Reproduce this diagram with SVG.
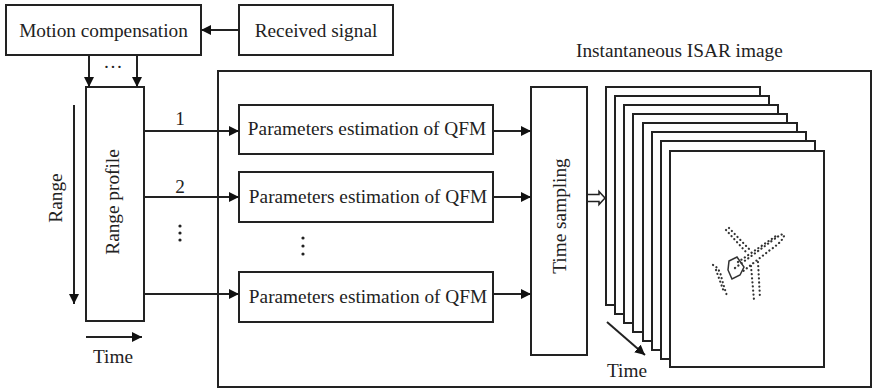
<svg xmlns="http://www.w3.org/2000/svg" width="875" height="389" viewBox="0 0 875 389">
  <style>
    .box { fill: #fff; stroke: #222; stroke-width: 2; }
    .ln { fill: none; stroke: #222; stroke-width: 2; }
    .t { font-family: "Liberation Serif", "Times New Roman", serif; font-size: 19.3px; fill: #222; }
    .dot { fill: none; stroke: #333; stroke-width: 2.2; stroke-linecap: round; stroke-dasharray: 0.1 4; }
  </style>
  <defs>
    <marker id="ah" viewBox="0 0 10 10" refX="10" refY="5" markerWidth="10" markerHeight="10" markerUnits="userSpaceOnUse" orient="auto">
      <path d="M0,0 L10,5 L0,10 z" fill="#111"/>
    </marker>
  </defs>

  <rect width="875" height="389" fill="#fff"/>

  <!-- outer frame -->
  <rect x="218" y="71" width="653" height="316" fill="none" stroke="#222" stroke-width="2"/>
  <text class="t" x="576" y="57">Instantaneous ISAR image</text>

  <g id="motion-compensation">
    <rect class="box" x="6" y="5" width="195" height="50"/>
    <text class="t" x="103.5" y="37" text-anchor="middle">Motion compensation</text>
  </g>

  <g id="received-signal">
    <rect class="box" x="239" y="5" width="154" height="50"/>
    <text class="t" x="316" y="37" text-anchor="middle">Received signal</text>
  </g>

  <g id="range-profile">
    <rect class="box" x="86" y="87" width="58" height="234"/>
    <text class="t" transform="translate(119,202) rotate(-90)" text-anchor="middle">Range profile</text>
  </g>

  <g id="qfm-1">
    <rect class="box" x="239" y="105" width="254" height="49"/>
    <text class="t" x="367" y="135" text-anchor="middle">Parameters estimation of QFM</text>
  </g>
  <g id="qfm-2">
    <rect class="box" x="239" y="172" width="254" height="50"/>
    <text class="t" x="368" y="203" text-anchor="middle">Parameters estimation of QFM</text>
  </g>
  <g id="qfm-n">
    <rect class="box" x="239" y="272" width="254" height="50"/>
    <text class="t" x="368" y="303" text-anchor="middle">Parameters estimation of QFM</text>
  </g>

  <g id="time-sampling">
    <rect class="box" x="531" y="87" width="56" height="268"/>
    <text class="t" transform="translate(566,216) rotate(-90)" text-anchor="middle">Time sampling</text>
  </g>

  <g id="isar-images">
    <rect class="box" x="606" y="87" width="154" height="218"/>
    <rect class="box" x="615" y="96" width="154" height="218"/>
    <rect class="box" x="624" y="105" width="154" height="218"/>
    <rect class="box" x="633" y="114" width="154" height="218"/>
    <rect class="box" x="643" y="123" width="154" height="218"/>
    <rect class="box" x="652" y="132" width="154" height="218"/>
    <rect class="box" x="661" y="141" width="154" height="218"/>
    <rect class="box" x="670" y="151" width="154" height="216"/>
    <!-- dotted aircraft scatterers -->
    <g id="aircraft">
      <path class="dot" d="M726,230 L746,252"/>
      <path class="dot" d="M729,228 L749,249"/>
      <path class="dot" d="M735,268 L773,240 Q785,231 784,236 Q782,242 770,250 L742,272"/>
      <path class="dot" d="M738,262 L776,236"/>
      <path class="dot" d="M751,266 L754,300"/>
      <path class="dot" d="M758,262 L760,298"/>
      <path class="dot" d="M713,265 Q720,268 722,280 L727,296"/>
      <path class="dot" d="M716,270 L724,292"/>
      <path d="M729,261 L737,257 L744,267 L740,275 L732,279 L728,270 Z" fill="none" stroke="#333" stroke-width="1.5"/>
    </g>
  </g>

  <g id="connectors">
    <line class="ln" x1="239" y1="30" x2="201" y2="30" marker-end="url(#ah)"/>
    <line class="ln" x1="89" y1="55" x2="89" y2="87" marker-end="url(#ah)"/>
    <line class="ln" x1="137" y1="55" x2="137" y2="87" marker-end="url(#ah)"/>
    <line class="ln" x1="144" y1="131" x2="239" y2="131" marker-end="url(#ah)"/>
    <line class="ln" x1="144" y1="197" x2="239" y2="197" marker-end="url(#ah)"/>
    <line class="ln" x1="144" y1="294" x2="239" y2="294" marker-end="url(#ah)"/>
    <line class="ln" x1="493" y1="131" x2="531" y2="131" marker-end="url(#ah)"/>
    <line class="ln" x1="493" y1="197" x2="531" y2="197" marker-end="url(#ah)"/>
    <line class="ln" x1="493" y1="294" x2="531" y2="294" marker-end="url(#ah)"/>
    <!-- hollow arrow into the image stack -->
    <path d="M588,194.5 L599,194.5 L599,191.5 L605,198 L599,204.5 L599,201.5 L588,201.5" fill="#fff" stroke="#222" stroke-width="1.5"/>
    <!-- axis arrows -->
    <line class="ln" x1="74" y1="105" x2="74" y2="304" marker-end="url(#ah)"/>
    <line class="ln" x1="86" y1="337" x2="142" y2="337" marker-end="url(#ah)"/>
    <line class="ln" x1="607" y1="322" x2="645" y2="355" marker-end="url(#ah)" stroke-width="1.6"/>
  </g>

  <!-- labels -->
  <text class="t" x="113" y="73" text-anchor="middle">···</text>
  <text class="t" transform="translate(62,198) rotate(-90)" text-anchor="middle">Range</text>
  <text class="t" x="113" y="363" text-anchor="middle">Time</text>
  <text class="t" x="180" y="125" text-anchor="middle">1</text>
  <text class="t" x="180" y="193" text-anchor="middle">2</text>
  <g fill="#222">
    <circle cx="180" cy="226" r="1.6"/><circle cx="180" cy="233" r="1.6"/><circle cx="180" cy="240" r="1.6"/>
    <circle cx="303" cy="238" r="1.6"/><circle cx="303" cy="246" r="1.6"/><circle cx="303" cy="254" r="1.6"/>
  </g>
  <text class="t" x="627" y="377" text-anchor="middle">Time</text>
</svg>
